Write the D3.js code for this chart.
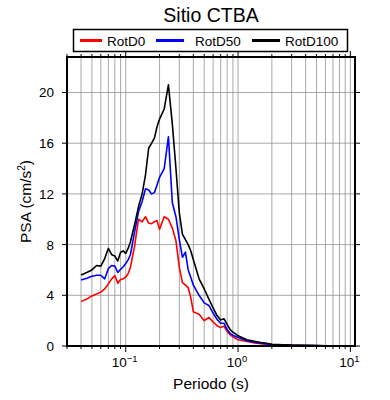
<!DOCTYPE html>
<html>
<head>
<meta charset="utf-8">
<script src="https://cdn.jsdelivr.net/npm/d3@7"></script>
<style>
  body { margin: 0; background: #fff; }
  svg { font-family: "Liberation Sans", Arial, Helvetica, sans-serif; }
</style>
</head>
<body>
<svg id="chart" width="390" height="400"></svg>
<script>
// periods (s)
var periods = [0.04, 0.045, 0.05, 0.055, 0.06, 0.065, 0.07, 0.075, 0.08, 0.085, 0.09, 0.095,
  0.1, 0.105, 0.11, 0.12, 0.13, 0.14, 0.15, 0.16, 0.17, 0.18, 0.19, 0.2, 0.22, 0.24, 0.26, 0.28,
  0.3, 0.32, 0.34, 0.36, 0.38, 0.4, 0.45, 0.5, 0.55, 0.6, 0.65, 0.7, 0.75, 0.8, 0.85, 0.9, 0.95,
  1.0, 1.2, 1.4, 1.6, 1.8, 2, 2.5, 3, 4, 5, 6, 7, 8, 10];

var rotD0 = [3.5, 3.7, 3.95, 4.1, 4.25, 4.5, 4.9, 5.3, 5.55, 4.95, 5.25, 5.3,
  5.45, 5.7, 6.2, 7.9, 10.0, 9.8, 10.2, 9.7, 9.65, 9.8, 9.9, 9.2, 10.2, 10.0, 9.3, 8.3,
  6.2, 5.0, 4.8, 4.6, 3.8, 2.7, 2.5, 2.0, 2.25, 1.9, 1.6, 1.45, 1.55, 1.15, 0.9, 0.72, 0.6,
  0.5, 0.35, 0.24, 0.18, 0.14, 0.1, 0.07, 0.05, 0.035, 0.025, 0.018, 0.014, 0.01, 0.007];

var rotD50 = [5.2, 5.35, 5.5, 5.58, 5.58, 5.3, 6.1, 6.35, 6.3, 5.8, 6.05, 6.25,
  6.5, 6.8, 7.2, 9.0, 10.6, 11.4, 12.4, 12.3, 12.0, 12.1, 12.7, 13.3, 14.0, 16.5, 11.3, 10.2,
  8.4, 7.0, 7.4, 6.0, 5.4, 4.8, 4.0, 3.4, 3.2, 2.6, 2.1, 1.8, 1.8, 1.3, 1.0, 0.85, 0.75,
  0.68, 0.42, 0.3, 0.22, 0.17, 0.12, 0.08, 0.06, 0.04, 0.03, 0.02, 0.016, 0.012, 0.008];

var rotD100 = [5.6, 5.8, 6.0, 6.35, 6.3, 6.9, 7.7, 7.2, 7.1, 6.7, 7.4, 7.5,
  7.3, 7.7, 8.2, 9.6, 11.0, 12.0, 13.5, 15.6, 16.0, 16.4, 17.3, 17.9, 18.7, 20.6, 17.5, 14.0,
  10.5, 8.8, 8.4, 8.0, 7.5, 6.8, 5.3, 4.5, 3.7, 3.0, 2.4, 2.05, 2.15, 1.7, 1.3, 1.1, 0.95,
  0.8, 0.5, 0.37, 0.27, 0.22, 0.14, 0.1, 0.07, 0.05, 0.035, 0.025, 0.02, 0.015, 0.01];

var seriesNames = ["RotD0", "RotD50", "RotD100"];
var seriesColors = ["#ff0000", "#0000ff", "#000000"];
var yTicks = [0, 4, 8, 12, 16, 20];
var xMajor = [0.1, 1, 10];
var xMajorExp = ["\u22121", "0", "1"];

var svg = d3.select("#chart");
var margin = {left: 67, right: 35, top: 57, bottom: 54};
var width = 390, height = 400;

var x = d3.scaleLog().domain([0.03, 11]).range([margin.left, width - margin.right]);
var y = d3.scaleLinear().domain([0, 22.8]).range([height - margin.bottom, margin.top]);

// minor values 1..9 x 10^k within domain
var xMinor = [];
[-2, -1, 0, 1].forEach(function(k) {
  for (var m = 1; m <= 9; m++) {
    var v = +(m * Math.pow(10, k)).toPrecision(3);
    if (v >= 0.03 && v <= 11) xMinor.push(v);
  }
});

var x0 = x.range()[0], x1 = x.range()[1];
var y0 = y.range()[0], y1 = y.range()[1];

// grid
var grid = svg.append("g").attr("stroke", "#939393").attr("stroke-width", 0.8);
grid.selectAll("line.vg").data(xMinor).enter().append("line")
  .attr("x1", d => x(d)).attr("x2", d => x(d))
  .attr("y1", y0).attr("y2", y1);
grid.selectAll("line.hg").data(yTicks.filter(d => d > 0)).enter().append("line")
  .attr("x1", x0).attr("x2", x1)
  .attr("y1", d => y(d)).attr("y2", d => y(d));

// curves
var allSeries = [rotD0, rotD50, rotD100];
var line = d3.line()
  .x((d, i) => x(periods[i]))
  .y(d => y(d));

svg.append("g").selectAll("path").data(allSeries).enter().append("path")
  .attr("fill", "none")
  .attr("stroke", (d, i) => seriesColors[i])
  .attr("stroke-width", 1.6)
  .attr("stroke-linejoin", "round")
  .attr("d", line);

// ticks on all four sides
var ticks = svg.append("g").attr("stroke", "#000").attr("stroke-width", 1);
xMinor.forEach(function(v) {
  var len = xMajor.indexOf(v) >= 0 ? 6 : 3;
  ticks.append("line").attr("x1", x(v)).attr("x2", x(v)).attr("y1", y0).attr("y2", y0 + len);
  ticks.append("line").attr("x1", x(v)).attr("x2", x(v)).attr("y1", y1).attr("y2", y1 - len);
});
yTicks.forEach(function(v) {
  ticks.append("line").attr("x1", x0).attr("x2", x0 - 5).attr("y1", y(v)).attr("y2", y(v));
  ticks.append("line").attr("x1", x1).attr("x2", x1 + 5).attr("y1", y(v)).attr("y2", y(v));
});

// frame
svg.append("rect")
  .attr("x", x0).attr("y", y1)
  .attr("width", x1 - x0).attr("height", y0 - y1)
  .attr("fill", "none").attr("stroke", "#000").attr("stroke-width", 2);

// y labels
svg.append("g").selectAll("text").data(yTicks).enter().append("text")
  .attr("x", x0 - 13).attr("y", d => y(d) + 5)
  .attr("text-anchor", "end")
  .style("font-size", "13.5px")
  .text(d => d);

// x labels
var xl = svg.append("g").selectAll("text").data(xMajor).enter().append("text")
  .attr("x", d => x(d) - 1).attr("y", y0 + 21)
  .attr("text-anchor", "middle")
  .style("font-size", "13.5px");
xl.append("tspan").text("10");
xl.append("tspan").attr("dy", -5).style("font-size", "9.5px").text((d, i) => xMajorExp[i]);

// axis titles
svg.append("text")
  .attr("x", (x0 + x1) / 2).attr("y", 389)
  .attr("text-anchor", "middle")
  .style("font-size", "15.5px")
  .text("Periodo (s)");

var yl = svg.append("text")
  .attr("transform", "translate(31," + ((y0 + y1) / 2) + ") rotate(-90)")
  .attr("text-anchor", "middle")
  .style("font-size", "15.5px");
yl.append("tspan").text("PSA (cm/s");
yl.append("tspan").attr("dy", -6).style("font-size", "10px").text("2");
yl.append("tspan").attr("dy", 6).text(")");

// title
svg.append("text")
  .attr("x", (x0 + x1) / 2).attr("y", 22)
  .attr("text-anchor", "middle")
  .style("font-size", "19.5px")
  .text("Sitio CTBA");

// legend
var legend = svg.append("g");
legend.append("rect")
  .attr("x", 73.5).attr("y", 29.5).attr("width", 274).attr("height", 22)
  .attr("fill", "#fff").attr("stroke", "#000").attr("stroke-width", 1.5);
var legX = [80, 156, 252];
var legTx = [107, 195, 285];
seriesNames.forEach(function(name, i) {
  legend.append("line")
    .attr("x1", legX[i]).attr("x2", legX[i] + 28 - (i === 0 ? 6 : 0))
    .attr("y1", 40.5).attr("y2", 40.5)
    .attr("stroke", seriesColors[i]).attr("stroke-width", 3);
  legend.append("text")
    .attr("x", legTx[i]).attr("y", 45.5)
    .style("font-size", "13.5px")
    .text(name);
});
</script>
</body>
</html>
